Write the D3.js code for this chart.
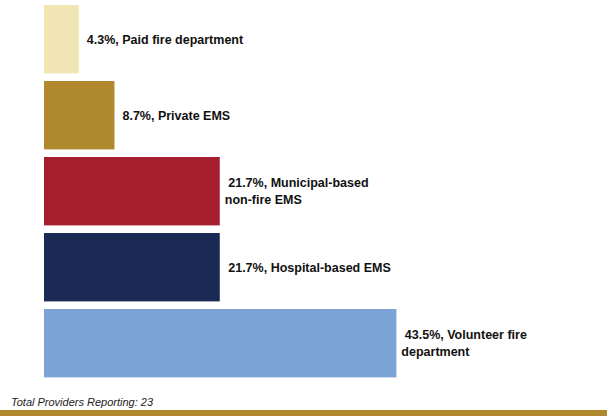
<!DOCTYPE html>
<html>
<head>
<meta charset="utf-8">
<script src="https://cdn.jsdelivr.net/npm/d3@7"></script>
<style>
  html, body { margin: 0; padding: 0; background: #fff; }
  svg { display: block; }
</style>
</head>
<body>
<svg id="chart" width="607" height="416"></svg>
<script>
// Provider types, top to bottom
const categories = [
  "Paid fire department",
  "Private EMS",
  "Municipal-based non-fire EMS",
  "Hospital-based EMS",
  "Volunteer fire department"
];
// Share of reporting providers (%)
const shares = [4.3, 8.7, 21.7, 21.7, 43.5];
// Label text, broken into lines as displayed
const labelLines = [
  ["4.3%, Paid fire department"],
  ["8.7%, Private EMS"],
  [" 21.7%, Municipal-based", "non-fire EMS"],
  [" 21.7%, Hospital-based EMS"],
  [" 43.5%, Volunteer fire", "department"]
];
const barColors = ["#F1E5B4", "#B0892F", "#A61E2E", "#1B2A55", "#7BA3D6"];
const footnote = "Total Providers Reporting: 23";

const svg = d3.select("#chart");
const W = 607, H = 416;

const x = d3.scaleLinear().domain([0, 50]).range([44, 449]);
const y = d3.scaleBand().domain(categories).range([5, 377.4]).paddingInner(0.1).paddingOuter(0);

const rows = categories.map((c, i) => ({ c, v: shares[i], lines: labelLines[i], color: barColors[i] }));

svg.selectAll("rect.bar")
  .data(rows)
  .join("rect")
  .attr("class", "bar")
  .attr("x", x(0))
  .attr("y", d => y(d.c))
  .attr("width", d => x(d.v) - x(0))
  .attr("height", y.bandwidth())
  .attr("fill", d => d.color);

const lineH = 17;
const labels = svg.selectAll("text.lbl")
  .data(rows)
  .join("text")
  .attr("class", "lbl")
  .attr("font-family", "'Liberation Sans', Arial, Helvetica, sans-serif")
  .attr("font-weight", "bold")
  .attr("font-size", 12.5)
  .attr("fill", "#111")
  .attr("xml:space", "preserve")
  .style("white-space", "pre");

labels.each(function (d) {
  const n = d.lines.length;
  const cy = y(d.c) + y.bandwidth() / 2;
  const pad = d.lines[0].startsWith(" ") ? 5 : 8;
  d3.select(this).selectAll("tspan")
    .data(d.lines)
    .join("tspan")
    .attr("x", x(d.v) + pad)
    .attr("y", (l, j) => cy + (j - (n - 1) / 2) * lineH)
    .attr("dy", "0.35em")
    .text(l => l);
});

svg.append("text")
  .attr("x", 11)
  .attr("y", 405.5)
  .attr("font-family", "'Liberation Sans', Arial, Helvetica, sans-serif")
  .attr("font-style", "italic")
  .attr("font-size", 11)
  .attr("fill", "#222")
  .text(footnote);

svg.append("rect")
  .attr("x", 0)
  .attr("y", 410)
  .attr("width", W)
  .attr("height", H - 410)
  .attr("fill", "#B0892F");
</script>
</body>
</html>
